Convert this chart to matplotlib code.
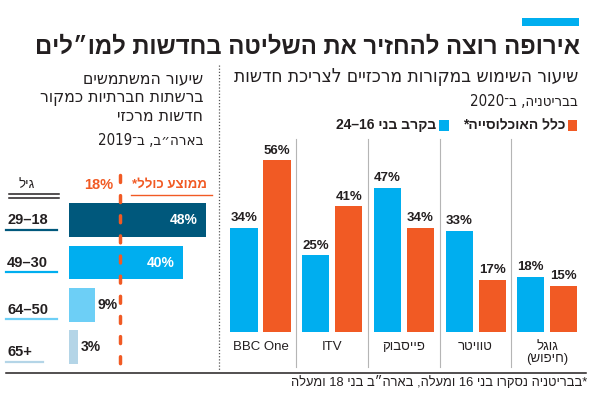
import re
import numpy as np
import matplotlib
matplotlib.use('Agg')
import matplotlib.pyplot as plt
from matplotlib.lines import Line2D
from matplotlib.patches import Rectangle
import matplotlib.transforms as mtrans

plt.rcParams['font.family'] = ['Liberation Sans', 'DejaVu Sans']

# ---------------- data ----------------
title = 'אירופה רוצה להחזיר את השליטה בחדשות למו״לים'
right_sub1 = 'שיעור השימוש במקורות מרכזיים לצריכת חדשות'
right_sub2 = 'בבריטניה, ב־2020'
legend_all = 'כלל האוכלוסייה*'
legend_young = 'בקרב בני 16–24'
sources = ['BBC One', 'ITV', 'פייסבוק', 'טוויטר', 'גוגל\n(חיפוש)']
young = [34, 25, 47, 33, 18]
allpop = [56, 41, 34, 17, 15]

left_sub = ['שיעור המשתמשים', 'ברשתות חברתיות כמקור', 'חדשות מרכזי']
left_sub2 = 'בארה״ב, ב־2019'
age_header = 'גיל'
avg_label = 'ממוצע כולל*'
ages = ['18–29', '30–49', '50–64', '65+']
social = [48, 40, 9, 3]
avg = 18
footnote = '*בבריטניה נסקרו בני 16 ומעלה, בארה״ב בני 18 ומעלה'

# ---------------- style ----------------
ORANGE = '#f15a24'
BLUE = '#00aeef'
DARK = '#231f20'
left_colors = ['#00587c', '#00aeef', '#6dcff6', '#b4d5e7']
COND = dict(family='DejaVu Sans', fontstretch='condensed')


def vis(s, force=False):
    """Convert logical-order (RTL) text to visual order for display."""
    out = []
    for line in s.split('\n'):
        if not force and not re.search('[\u0590-\u05FF]', line):
            out.append(line)
            continue
        r = line[::-1]
        r = re.sub(r'[0-9A-Za-z%+]+', lambda m: m.group(0)[::-1], r)
        out.append(r.translate(str.maketrans('()', ')(')))
    return '\n'.join(out)


W, H = 590, 396
fig = plt.figure(figsize=(W / 100, H / 100), dpi=100)


def fx(x):
    return x / W


def fy(y):
    return 1 - y / H


def ftext(x, y, s, **kw):
    kw.setdefault('color', DARK)
    return fig.text(fx(x), fy(y), vis(s), **kw)


# accent bar + title
fig.add_artist(Rectangle((fx(522), fy(25.7)), fx(579) - fx(522), (25.7 - 18.3) / H,
                         transform=fig.transFigure, color=BLUE, lw=0))
ftext(580, 47, title, ha='right', va='center', fontsize=17.2, fontweight='bold')

# right subtitle
ftext(578, 77, right_sub1, ha='right', va='center', fontsize=13.7, **COND)
ftext(578, 101.5, right_sub2, ha='right', va='center', fontsize=10.8, **COND)
# legend
for (x0, col, lab) in [(567.7, ORANGE, legend_all), (439, BLUE, legend_young)]:
    fig.add_artist(Rectangle((fx(x0), fy(130.5)), 9.6 / W, 10.5 / H,
                             transform=fig.transFigure, color=col, lw=0))
    ftext(x0 - 2.5, 125.5, lab, ha='right', va='center', fontsize=10, fontweight='bold')

# left subtitle
for txt, y in zip(left_sub, [78.3, 97.5, 116.5]):
    ftext(203, y, txt, ha='right', va='center', fontsize=12.5, **COND)
ftext(203, 140, left_sub2, ha='right', va='center', fontsize=10.8, **COND)

# dotted divider
fig.add_artist(Line2D([fx(219), fx(219)], [fy(65), fy(370)], transform=fig.transFigure,
                      color='#555555', lw=0.9, linestyle=(0, (1, 1.5))))
# bottom rule
fig.add_artist(Line2D([fx(6), fx(586)], [fy(373), fy(373)], transform=fig.transFigure,
                      color=DARK, lw=1.1))
ftext(587, 382.5, footnote, ha='right', va='center', fontsize=9.3)

# ---------------- right chart ----------------
axR = fig.add_axes([fx(224.65), fy(332), (583.15 - 224.65) / W, 192 / H])
xs = np.arange(len(sources))
bw, off = 0.377, 0.23
axR.bar(xs - off, young, bw, color=BLUE, lw=0)
axR.bar(xs + off, allpop, bw, color=ORANGE, lw=0)
axR.set_xlim(-0.5, len(sources) - 0.5)
axR.set_ylim(0, 192 / 3.07)
axR.axis('off')
for i in range(len(sources)):
    for xv, v in [(xs[i] - off, young[i]), (xs[i] + off, allpop[i])]:
        axR.annotate(f'{v}%', (xv, v), xytext=(0, 2.5), textcoords='offset points',
                     ha='center', va='bottom', fontsize=9.5, fontweight='bold', color=DARK)
    axR.text(xs[i], -0.045, vis(sources[i]), transform=axR.get_xaxis_transform(),
             ha='center', va='top', fontsize=9.5, color=DARK, linespacing=1.0)
for i in range(len(sources) - 1):
    axR.plot([i + 0.5, i + 0.5], [1.005, -0.182], transform=axR.get_xaxis_transform(),
             color='#b5b5b5', lw=0.8, clip_on=False)

# ---------------- left chart ----------------
axL = fig.add_axes([fx(69), fy(368.35), (210 - 69) / W, 169.35 / H])
ys = np.arange(len(ages))
axL.barh(ys, social, height=0.80, color=left_colors, lw=0)
axL.set_xlim(0, 141 / 2.85)
axL.set_ylim(len(ages) - 0.5, -0.5)
axL.axis('off')
for i, v in enumerate(social):
    if v > 20:
        axL.annotate(f'{v}%', (v, i), xytext=(-6, 0), textcoords='offset points',
                     ha='right', va='center', fontsize=10, fontweight='bold', color='white')
    else:
        axL.annotate(f'{v}%', (v, i), xytext=(2, 0), textcoords='offset points',
                     ha='left', va='center', fontsize=10, fontweight='bold', color=DARK)
axL.plot([avg, avg], [1.142, -0.01], transform=axL.get_xaxis_transform(), color=ORANGE,
         lw=2.5, dashes=(2, 3.8), dash_capstyle='round', clip_on=False)

tr = mtrans.blended_transform_factory(fig.transFigure, axL.transData)
dy = [0, 0, 0.11, 0.11]
for i, a in enumerate(ages):
    fig.text(fx(7), i + dy[i], vis(a, force=True), transform=tr, ha='left', va='center',
             fontsize=10.5, fontweight='bold', color=DARK)
    x_end = 57 if i < 3 else 43
    fig.add_artist(Line2D([fx(6), fx(x_end)], [i + dy[i] + 0.235] * 2, transform=tr,
                          color=left_colors[i], lw=1.6))

# header row
ftext(27, 185, age_header, ha='center', va='center', fontsize=9.5)
for yy in (194, 197.5):
    fig.add_artist(Line2D([fx(9), fx(59)], [fy(yy)] * 2, transform=fig.transFigure,
                          color=DARK, lw=1.1))
ftext(113, 185, f'{avg}%', ha='right', va='center', fontsize=10.5, fontweight='bold',
      color=ORANGE)
ftext(207, 185, avg_label, ha='right', va='center', fontsize=9.5, fontweight='bold',
      color=ORANGE)
fig.add_artist(Line2D([fx(131), fx(212)], [fy(195), fy(195)], transform=fig.transFigure,
                      color=ORANGE, lw=1.0))

fig.savefig('out.png', dpi=100)
